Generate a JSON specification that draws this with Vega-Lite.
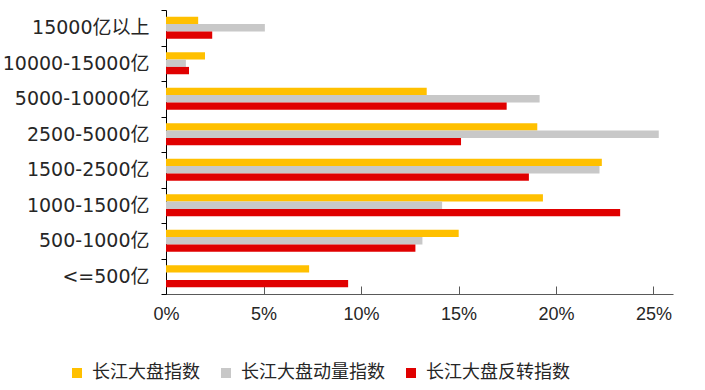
{
  "$schema": "https://vega.github.io/schema/vega-lite/v6.json",
  "width": 507,
  "height": 284,
  "autosize": {"type": "none"},
  "padding": {"left": 166, "top": 10, "right": 32, "bottom": 96},
  "background": "white",
  "config": {
    "view": {"stroke": null},
    "font": "Arial, Noto Sans CJK SC"
  },
  "data": {
    "values": [
      {"cat": "15000亿以上", "series": "长江大盘指数", "v": 0.0165},
      {"cat": "15000亿以上", "series": "长江大盘动量指数", "v": 0.0507},
      {"cat": "15000亿以上", "series": "长江大盘反转指数", "v": 0.0237},
      {"cat": "10000-15000亿", "series": "长江大盘指数", "v": 0.0200},
      {"cat": "10000-15000亿", "series": "长江大盘动量指数", "v": 0.0102},
      {"cat": "10000-15000亿", "series": "长江大盘反转指数", "v": 0.0118},
      {"cat": "5000-10000亿", "series": "长江大盘指数", "v": 0.1337},
      {"cat": "5000-10000亿", "series": "长江大盘动量指数", "v": 0.1916},
      {"cat": "5000-10000亿", "series": "长江大盘反转指数", "v": 0.1747},
      {"cat": "2500-5000亿", "series": "长江大盘指数", "v": 0.1904},
      {"cat": "2500-5000亿", "series": "长江大盘动量指数", "v": 0.2527},
      {"cat": "2500-5000亿", "series": "长江大盘反转指数", "v": 0.1513},
      {"cat": "1500-2500亿", "series": "长江大盘指数", "v": 0.2235},
      {"cat": "1500-2500亿", "series": "长江大盘动量指数", "v": 0.2223},
      {"cat": "1500-2500亿", "series": "长江大盘反转指数", "v": 0.1861},
      {"cat": "1000-1500亿", "series": "长江大盘指数", "v": 0.1933},
      {"cat": "1000-1500亿", "series": "长江大盘动量指数", "v": 0.1416},
      {"cat": "1000-1500亿", "series": "长江大盘反转指数", "v": 0.2329},
      {"cat": "500-1000亿", "series": "长江大盘指数", "v": 0.1501},
      {"cat": "500-1000亿", "series": "长江大盘动量指数", "v": 0.1315},
      {"cat": "500-1000亿", "series": "长江大盘反转指数", "v": 0.1279},
      {"cat": "<=500亿", "series": "长江大盘指数", "v": 0.0734},
      {"cat": "<=500亿", "series": "长江大盘动量指数", "v": 0.0},
      {"cat": "<=500亿", "series": "长江大盘反转指数", "v": 0.0934}
    ]
  },
  "mark": {"type": "bar"},
  "encoding": {
    "y": {
      "field": "cat",
      "type": "nominal",
      "sort": null,
      "title": null,
      "scale": {"paddingInner": 0, "paddingOuter": 0},
      "axis": {
        "tickBand": "extent",
        "domainColor": "#000000",
        "tickColor": "#000000",
        "tickSize": 5,
        "labelFontSize": 19,
        "labelColor": "#262626",
        "labelPadding": 12,
        "labelFont": "DejaVu Sans, Noto Sans CJK SC"
      }
    },
    "yOffset": {
      "field": "series",
      "type": "nominal",
      "sort": ["长江大盘指数", "长江大盘动量指数", "长江大盘反转指数"],
      "scale": {"paddingInner": 0, "paddingOuter": 0.92}
    },
    "x": {
      "field": "v",
      "type": "quantitative",
      "title": null,
      "scale": {"domain": [0, 0.26], "nice": false},
      "axis": {
        "values": [0, 0.05, 0.1, 0.15, 0.2, 0.25],
        "format": ".0%",
        "grid": false,
        "labelFlush": false,
        "domainColor": "#595959",
        "tickColor": "#595959",
        "tickSize": -8,
        "labelFontSize": 18,
        "labelColor": "#262626",
        "labelPadding": 19,
        "labelFont": "Arial"
      }
    },
    "color": {
      "field": "series",
      "type": "nominal",
      "sort": ["长江大盘指数", "长江大盘动量指数", "长江大盘反转指数"],
      "scale": {"range": ["#FFC000", "#C8C8C8", "#E00000"]},
      "legend": {
        "title": null,
        "orient": "none",
        "direction": "horizontal",
        "legendX": -98,
        "legendY": 354,
        "symbolType": "square",
        "symbolSize": 100,
        "symbolStrokeWidth": 0,
        "labelFontSize": 18,
        "labelColor": "#262626",
        "labelOffset": 6,
        "columnPadding": 17
      }
    }
  }
}
